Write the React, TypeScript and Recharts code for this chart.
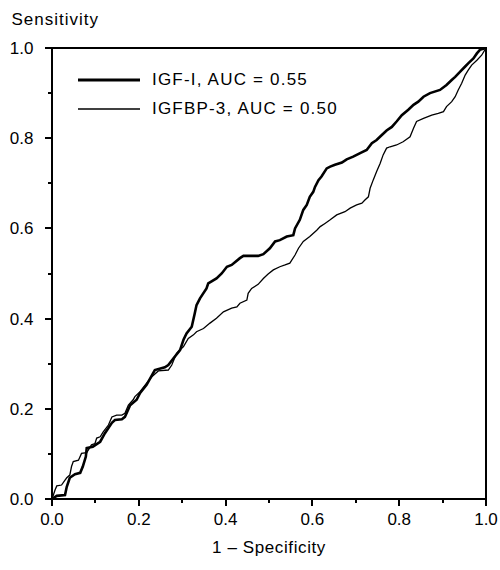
import React from "react";
import {
	Legend,
	Line,
	LineChart,
	ReferenceArea,
	XAxis,
	YAxis,
} from "recharts";

// ROC curve points (1 - specificity, sensitivity)
const igfX = [
	0, 0.011, 0.03, 0.034, 0.041, 0.053, 0.065, 0.071, 0.078, 0.08, 0.094, 0.111,
	0.122, 0.138, 0.145, 0.161, 0.168, 0.18, 0.195, 0.203, 0.218, 0.233, 0.237,
	0.26, 0.268, 0.28, 0.295, 0.303, 0.31, 0.322, 0.329, 0.333, 0.341, 0.356,
	0.36, 0.379, 0.391, 0.403, 0.414, 0.433, 0.441, 0.475, 0.487, 0.502, 0.514,
	0.525, 0.541, 0.556, 0.56, 0.571, 0.579, 0.587, 0.594, 0.602, 0.606, 0.614,
	0.621, 0.633, 0.641, 0.652, 0.668, 0.679, 0.694, 0.71, 0.725, 0.737, 0.748,
	0.76, 0.771, 0.783, 0.794, 0.806, 0.821, 0.833, 0.844, 0.856, 0.871, 0.894,
	0.909, 0.921, 0.929, 0.94, 0.952, 0.959, 0.971, 0.979, 0.986, 1,
];
const igfY = [
	0, 0.007, 0.009, 0.027, 0.047, 0.055, 0.058, 0.072, 0.094, 0.113, 0.116,
	0.127, 0.146, 0.169, 0.175, 0.177, 0.182, 0.208, 0.22, 0.235, 0.253, 0.279,
	0.286, 0.292, 0.297, 0.312, 0.33, 0.353, 0.367, 0.382, 0.412, 0.43, 0.445,
	0.467, 0.478, 0.489, 0.5, 0.515, 0.519, 0.534, 0.539, 0.539, 0.543, 0.556,
	0.571, 0.574, 0.582, 0.585, 0.6, 0.619, 0.641, 0.652, 0.67, 0.681, 0.692,
	0.707, 0.715, 0.733, 0.737, 0.741, 0.746, 0.753, 0.759, 0.767, 0.774, 0.789,
	0.796, 0.807, 0.817, 0.825, 0.837, 0.851, 0.863, 0.874, 0.881, 0.892, 0.9,
	0.907, 0.918, 0.929, 0.936, 0.947, 0.959, 0.966, 0.977, 0.988, 0.996, 1,
];

const bp3X = [
	0, 0.007, 0.011, 0.022, 0.03, 0.034, 0.041, 0.045, 0.049, 0.061, 0.068, 0.08,
	0.091, 0.099, 0.103, 0.111, 0.118, 0.13, 0.138, 0.149, 0.161, 0.168, 0.176,
	0.187, 0.191, 0.203, 0.218, 0.23, 0.245, 0.268, 0.276, 0.287, 0.303, 0.314,
	0.326, 0.333, 0.349, 0.364, 0.379, 0.395, 0.414, 0.426, 0.433, 0.449, 0.452,
	0.46, 0.475, 0.487, 0.498, 0.51, 0.525, 0.537, 0.548, 0.56, 0.568, 0.579,
	0.594, 0.61, 0.618, 0.629, 0.641, 0.656, 0.675, 0.687, 0.702, 0.714, 0.721,
	0.729, 0.733, 0.74, 0.748, 0.756, 0.763, 0.771, 0.779, 0.794, 0.809, 0.825,
	0.833, 0.84, 0.856, 0.875, 0.89, 0.902, 0.909, 0.921, 0.929, 0.936, 0.944,
	0.952, 0.959, 0.967, 0.979, 0.99, 1,
];
const bp3Y = [
	0, 0.02, 0.029, 0.031, 0.042, 0.047, 0.053, 0.072, 0.083, 0.086, 0.101, 0.103,
	0.12, 0.123, 0.135, 0.138, 0.149, 0.164, 0.182, 0.186, 0.186, 0.19, 0.208,
	0.22, 0.227, 0.238, 0.257, 0.271, 0.284, 0.286, 0.297, 0.323, 0.338, 0.356,
	0.364, 0.371, 0.378, 0.39, 0.401, 0.415, 0.423, 0.426, 0.434, 0.441, 0.456,
	0.467, 0.476, 0.489, 0.499, 0.508, 0.515, 0.519, 0.523, 0.541, 0.556, 0.571,
	0.582, 0.596, 0.604, 0.611, 0.619, 0.63, 0.637, 0.645, 0.652, 0.656, 0.663,
	0.67, 0.689, 0.707, 0.726, 0.744, 0.763, 0.778, 0.781, 0.785, 0.792, 0.803,
	0.822, 0.837, 0.844, 0.851, 0.855, 0.859, 0.87, 0.881, 0.892, 0.907, 0.922,
	0.94, 0.951, 0.962, 0.973, 0.984, 1,
];

const ticks = [0, 0.1, 0.2, 0.3, 0.4, 0.5, 0.6, 0.7, 0.8, 0.9, 1];
const seriesNames = ["IGF-I, AUC = 0.55", "IGFBP-3, AUC = 0.50"];

const igfData = igfX.map((x, i) => ({ x, y: igfY[i] }));
const bp3Data = bp3X.map((x, i) => ({ x, y: bp3Y[i] }));

const FONT = "'Liberation Sans', Arial, Helvetica, sans-serif";

const isMajor = (v: number) => Math.round(v * 10) % 2 === 0;

const YTick = ({ x, y, payload }: any) => {
	const major = isMajor(payload.value);
	return (
		<g>
			<line
				x1={x - (major ? 7 : 4)}
				x2={x}
				y1={y}
				y2={y}
				stroke="#000"
				strokeWidth={2}
				shapeRendering="crispEdges"
			/>
			{major && (
				<text
					x={x - 18.5}
					y={y}
					dy={6}
					textAnchor="end"
					fontFamily={FONT}
					fontSize={17}
					fill="#000"
				>
					{payload.value.toFixed(1)}
				</text>
			)}
		</g>
	);
};

const XTick = ({ x, y, payload }: any) => {
	const major = isMajor(payload.value);
	return (
		<g>
			<line
				x1={x}
				x2={x}
				y1={y}
				y2={y + (major ? 7 : 4)}
				stroke="#000"
				strokeWidth={2}
				shapeRendering="crispEdges"
			/>
			{major && (
				<text
					x={x}
					y={y + 26}
					textAnchor="middle"
					fontFamily={FONT}
					fontSize={17}
					fill="#000"
				>
					{payload.value.toFixed(1)}
				</text>
			)}
		</g>
	);
};

const LegendBox = () => (
	<div style={{ fontFamily: FONT, fontSize: 17, letterSpacing: 1.2 }}>
		{seriesNames.map((name, i) => (
			<div
				key={name}
				style={{ display: "flex", alignItems: "center", height: 29.3 }}
			>
				<svg width={62} height={6} style={{ marginRight: 12 }}>
					<line
						x1={0}
						x2={62}
						y1={3}
						y2={3}
						stroke="#000"
						strokeWidth={i === 0 ? 3 : 1.3}
					/>
				</svg>
				<span>{name}</span>
			</div>
		))}
	</div>
);

export default function App() {
	return (
		<div
			style={{
				position: "absolute",
				left: 0,
				top: 0,
				width: 500,
				height: 570,
				background: "#fff",
			}}
		>
			<LineChart
				width={500}
				height={570}
				margin={{ top: 48, right: 14, bottom: 0, left: 0 }}
			>
				<XAxis
					type="number"
					dataKey="x"
					domain={[0, 1]}
					ticks={ticks}
					interval={0}
					allowDataOverflow
					height={71}
					tickSize={0}
					tickMargin={0}
					tick={<XTick />}
					axisLine={false}
					label={{
						value: "1 – Specificity",
						position: "insideBottom",
						offset: 17,
						fontFamily: FONT,
						fontSize: 17,
						fill: "#000",
						letterSpacing: 0.6,
					}}
				/>
				<YAxis
					type="number"
					dataKey="y"
					domain={[0, 1]}
					ticks={ticks}
					interval={0}
					allowDataOverflow
					width={52}
					tickSize={0}
					tickMargin={0}
					tick={<YTick />}
					axisLine={false}
					label={{
						content: () => (
							<text
								x={11.5}
								y={25}
								fontFamily={FONT}
								fontSize={17}
								fill="#000"
								letterSpacing={1}
							>
								Sensitivity
							</text>
						),
					}}
				/>
				<ReferenceArea
					x1={0}
					x2={1}
					y1={0}
					y2={1}
					fill="none"
					fillOpacity={0}
					stroke="#000"
					strokeWidth={2}
					strokeOpacity={1}
					shapeRendering="crispEdges"
				/>
				<Legend
					layout="horizontal"
					verticalAlign="middle"
					align="center"
					content={<LegendBox />}
					wrapperStyle={{ left: 78, top: 65.5, width: 300 }}
				/>
				<Line
					data={bp3Data}
					dataKey="y"
					name={seriesNames[1]}
					type="linear"
					stroke="#000"
					strokeWidth={1.3}
					dot={false}
					isAnimationActive={false}
				/>
				<Line
					data={igfData}
					dataKey="y"
					name={seriesNames[0]}
					type="linear"
					stroke="#000"
					strokeWidth={2.6}
					dot={false}
					isAnimationActive={false}
				/>
			</LineChart>
		</div>
	);
}
